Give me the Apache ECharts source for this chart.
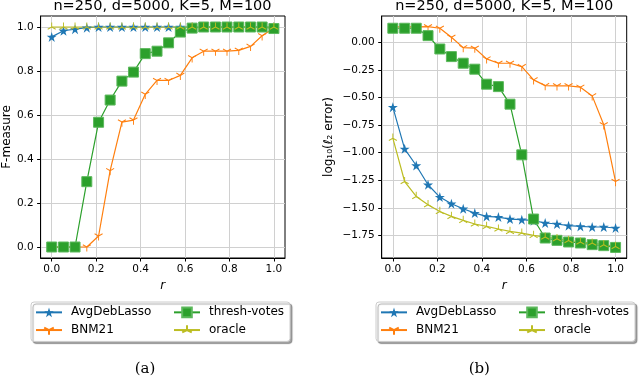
<!DOCTYPE html>
<html>
<head>
<meta charset="utf-8">
<script src="https://cdn.jsdelivr.net/npm/echarts@6/dist/echarts.min.js"></script>
<style>
  html, body { margin: 0; padding: 0; background: #fff; }
  #chart { width: 640px; height: 379px; }
</style>
</head>
<body>
<div id="chart"></div>
<script>
// r values (x axis, shared by both panels)
const rVals = [0, 0.053, 0.105, 0.158, 0.211, 0.263, 0.316, 0.368, 0.421, 0.474,
               0.526, 0.579, 0.632, 0.684, 0.737, 0.789, 0.842, 0.895, 0.947, 1.0];

// (a) F-measure
const fAvgDebLasso = [0.955, 0.983, 0.99, 0.997, 1, 1, 1, 1, 1, 1, 1, 1, 1, 1, 1, 1, 1, 1, 1, 1];
const fBNM21 = [0, 0, 0, 0, 0.05, 0.347, 0.568, 0.577, 0.694, 0.757, 0.757, 0.78, 0.86, 0.89, 0.89, 0.89, 0.894, 0.912, 0.96, 0.995];
const fThresh = [0, 0, 0, 0.297, 0.567, 0.668, 0.754, 0.795, 0.879, 0.89, 0.928, 0.977, 0.995, 1, 1, 1, 1, 1, 1, 0.993];
const fOracle = [1, 1, 1, 1, 1, 1, 1, 1, 1, 1, 1, 1, 1, 1, 1, 1, 1, 1, 1, 1];

// (b) log10(l2 error)
const eAvgDebLasso = [-0.588, -0.966, -1.117, -1.291, -1.403, -1.463, -1.509, -1.548, -1.578, -1.584,
                      -1.602, -1.608, -1.617, -1.638, -1.647, -1.662, -1.669, -1.674, -1.674, -1.683];
const eBNM21 = [0.14, 0.14, 0.14, 0.141, 0.127, 0.045, -0.049, -0.054, -0.151, -0.19,
                -0.19, -0.221, -0.341, -0.393, -0.395, -0.395, -0.407, -0.486, -0.748, -1.262];
const eThresh = [0.127, 0.127, 0.127, 0.06, -0.061, -0.13, -0.19, -0.244, -0.38, -0.402,
                 -0.561, -1.02, -1.602, -1.774, -1.795, -1.81, -1.819, -1.834, -1.843, -1.859];
const eOracle = [-0.869, -1.262, -1.397, -1.472, -1.533, -1.578, -1.614, -1.647, -1.669, -1.692,
                 -1.714, -1.729, -1.75, -1.765, -1.78, -1.796, -1.81, -1.819, -1.834, -1.85];

const xTicks = [0, 0.2, 0.4, 0.6, 0.8, 1.0];
const fTicks = [0, 0.2, 0.4, 0.6, 0.8, 1.0];
const eTicks = [-1.75, -1.5, -1.25, -1.0, -0.75, -0.5, -0.25, 0];

const names = ['AvgDebLasso', 'BNM21', 'thresh-votes', 'oracle'];
const colors = ['#1f77b4', '#ff7f0e', '#2ca02c', '#bcbd22'];

// marker shapes
function starPath() {
    const pts = [];
    for (let i = 0; i < 10; i++) {
        const rr = i % 2 ? 0.382 : 1;
        const a = -Math.PI / 2 + i * Math.PI / 5;
        pts.push((rr * Math.cos(a)).toFixed(3) + ' ' + (rr * Math.sin(a)).toFixed(3));
    }
    return 'path://M' + pts.join(' L') + ' Z';
}
const STAR = starPath();
const TRI_DOWN = 'path://M0 0 L0 10 M0 0 L-8.66 -5 M0 0 L8.66 -5 M0 -10 L0 -10';
const TRI_UP = 'path://M0 0 L0 -10 M0 0 L-8.66 5 M0 0 L8.66 5 M0 10 L0 10';

const font = 'DejaVu Sans';
const pairs = (ys) => rVals.map((x, i) => [x, ys[i]]);

function makeSeries(idx, sets) {
    const sym = [
        { symbol: STAR, symbolSize: 10, itemStyle: { color: colors[0] } },
        { symbol: TRI_DOWN, symbolSize: [8, 9.2], itemStyle: { color: colors[1], borderColor: colors[1], borderWidth: 1 } },
        { symbol: 'rect', symbolSize: 10, itemStyle: { color: colors[2], borderColor: '#5cb85c', borderWidth: 1 } },
        { symbol: TRI_UP, symbolSize: [8, 9.2], itemStyle: { color: colors[3], borderColor: colors[3], borderWidth: 1 } }
    ];
    return sets.map((ys, k) => Object.assign({
        name: names[k],
        type: 'line',
        xAxisIndex: idx,
        yAxisIndex: idx,
        data: pairs(ys),
        showSymbol: true,
        lineStyle: { color: colors[k], width: 1.2 },
        emphasis: { disabled: true },
        animation: false
    }, sym[k]));
}

function xAxisOf(idx) {
    return {
        type: 'value', gridIndex: idx, min: -0.05, max: 1.05,
        name: 'r', nameLocation: 'middle', nameGap: 20,
        nameTextStyle: { fontFamily: font, fontSize: 12, fontStyle: 'italic', color: '#000' },
        axisLine: { show: true, onZero: false, lineStyle: { color: '#000', width: 1 } },
        axisTick: { show: true, length: 3.5, customValues: xTicks, lineStyle: { color: '#000' } },
        axisLabel: { customValues: xTicks, formatter: v => v.toFixed(1), fontFamily: font, fontSize: 10.5, color: '#000', margin: 6 },
        splitLine: { show: true, lineStyle: { color: '#d0d0d0', width: 1 } }
    };
}

function legendOf(left) {
    const pad = [0, 0, 0, 4];
    return {
        left: left, top: 302, width: 256,
        orient: 'horizontal', selectedMode: false,
        itemWidth: 26, itemHeight: 12, itemGap: 5,
        padding: [4, 6, 5, 4],
        backgroundColor: '#fff', borderColor: '#cccccc', borderWidth: 1, borderRadius: 3,
        shadowColor: 'rgba(0,0,0,0.35)', shadowBlur: 1, shadowOffsetX: 2, shadowOffsetY: 2,
        textStyle: { fontFamily: font, fontSize: 12, color: '#000', lineHeight: 12.7 },
        data: [
            { name: 'AvgDebLasso', textStyle: { width: 97, padding: pad } },
            { name: 'thresh-votes', textStyle: { padding: pad } },
            { name: 'BNM21', textStyle: { width: 97, padding: pad } },
            { name: 'oracle', textStyle: { padding: pad } }
        ]
    };
}

const title = 'n=250, d=5000, K=5, M=100';
const chart = echarts.init(document.getElementById('chart'), null, { renderer: 'canvas' });

chart.setOption({
    backgroundColor: '#fff',
    animation: false,
    grid: [
        { left: 40, top: 16, width: 245, height: 242, show: true, borderColor: '#000', borderWidth: 1, backgroundColor: 'transparent' },
        { left: 381.7, top: 16, width: 245, height: 242, show: true, borderColor: '#000', borderWidth: 1, backgroundColor: 'transparent' }
    ],
    xAxis: [xAxisOf(0), xAxisOf(1)],
    yAxis: [
        {
            type: 'value', gridIndex: 0, min: -0.05, max: 1.05,
            name: 'F-measure', nameLocation: 'middle', nameGap: 27,
            nameTextStyle: { fontFamily: font, fontSize: 12, color: '#000' },
            axisLine: { show: true, onZero: false, lineStyle: { color: '#000' } },
            axisTick: { show: true, length: 3.5, customValues: fTicks, lineStyle: { color: '#000' } },
            axisLabel: { customValues: fTicks, formatter: v => v.toFixed(1), fontFamily: font, fontSize: 10.5, color: '#000', margin: 7 },
            splitLine: { show: true, lineStyle: { color: '#d0d0d0', width: 1 } }
        },
        {
            type: 'value', gridIndex: 1, min: -1.955, max: 0.238,
            name: 'log\u2081\u2080(\u2113\u2082 error)', nameLocation: 'middle', nameGap: 47,
            nameTextStyle: { fontFamily: font, fontSize: 12, color: '#000' },
            axisLine: { show: true, onZero: false, lineStyle: { color: '#000' } },
            axisTick: { show: true, length: 3.5, customValues: eTicks, lineStyle: { color: '#000' } },
            axisLabel: {
                customValues: eTicks,
                formatter: v => (v < 0 ? '\u2212' : '') + Math.abs(v).toFixed(2),
                fontFamily: font, fontSize: 10.5, color: '#000', margin: 7
            },
            splitLine: { show: true, lineStyle: { color: '#d0d0d0', width: 1 } }
        }
    ],
    legend: [legendOf(31), legendOf(376)],
    graphic: [
        { type: 'text', x: 162.5, y: 6, style: { text: title, fontFamily: font, fontSize: 14.5, fill: '#000', align: 'center', verticalAlign: 'middle' } },
        { type: 'text', x: 504.2, y: 6, style: { text: title, fontFamily: font, fontSize: 14.5, fill: '#000', align: 'center', verticalAlign: 'middle' } },
        { type: 'text', x: 145, y: 369, style: { text: '(a)', fontFamily: 'DejaVu Serif', fontSize: 15, fill: '#000', align: 'center', verticalAlign: 'middle' } },
        { type: 'text', x: 479.3, y: 369, style: { text: '(b)', fontFamily: 'DejaVu Serif', fontSize: 15, fill: '#000', align: 'center', verticalAlign: 'middle' } }
    ],
    series: makeSeries(0, [fAvgDebLasso, fBNM21, fThresh, fOracle])
        .concat(makeSeries(1, [eAvgDebLasso, eBNM21, eThresh, eOracle]))
});
</script>
</body>
</html>
